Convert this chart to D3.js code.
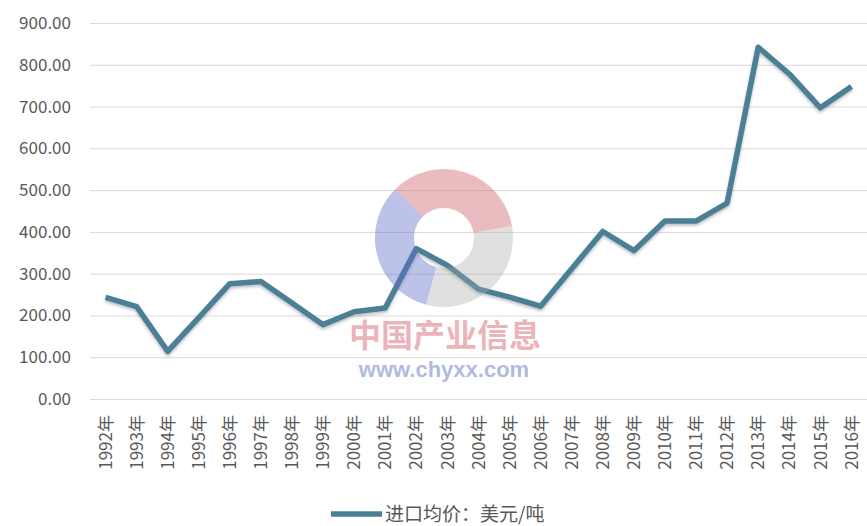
<!DOCTYPE html>
<html>
<head>
<meta charset="utf-8">
<script src="https://cdn.jsdelivr.net/npm/d3@7"></script>
<style>
  body { margin: 0; background: #fff; }
  text { font-family: "Microsoft YaHei", "Noto Sans CJK SC", sans-serif; }
</style>
</head>
<body>
<div id="chart"></div>
<script>
// data
const years = ["1992年","1993年","1994年","1995年","1996年","1997年","1998年","1999年","2000年",
  "2001年","2002年","2003年","2004年","2005年","2006年","2007年","2008年","2009年","2010年",
  "2011年","2012年","2013年","2014年","2015年","2016年"]
const prices = [243, 221, 114, 195, 276, 281, 230, 178, 209,
  218, 360, 320, 263, 244, 222, 312, 401, 355, 426,
  426, 469, 842, 778, 697, 748]
const yTicks = [0, 100, 200, 300, 400, 500, 600, 700, 800, 900]
const seriesName = "进口均价：美元/吨"

const width = 867
const height = 526
const margin = {top: 23, right: 0, bottom: 125, left: 90}

const svg = d3.select("#chart")
  .append("svg")
    .attr("width", width)
    .attr("height", height)

const x = d3.scaleBand()
  .domain(years)
  .range([margin.left, width - margin.right])

const y = d3.scaleLinear()
  .domain([0, 900])
  .range([height - margin.bottom - 2, margin.top])

// gridlines + y labels
const yAxis = svg.append("g")
  .attr("transform", `translate(${margin.left},0)`)
  .call(d3.axisLeft(y).tickValues(yTicks).tickFormat(d3.format(".2f"))
    .tickSize(-(width - margin.left - margin.right)).tickPadding(19))
yAxis.select(".domain").remove()
yAxis.selectAll(".tick line").attr("stroke", "#d9d9d9")
yAxis.selectAll(".tick text")
  .attr("fill", "#595959")
  .style("font-size", "17px")

// x labels, rotated
const xAxis = svg.append("g")
  .attr("transform", `translate(0,${y(0)})`)
  .call(d3.axisBottom(x).tickSize(0))
xAxis.select(".domain").remove()
xAxis.selectAll(".tick text")
  .attr("fill", "#595959")
  .style("font-size", "17px")
  .attr("text-anchor", "end")
  .attr("transform", "rotate(-90)")
  .attr("x", -16)
  .attr("y", 0)
  .attr("dy", "0.36em")

// soft shadow for the line
const defs = svg.append("defs")
const f = defs.append("filter").attr("id", "shadow")
  .attr("x", "-10%").attr("y", "-10%").attr("width", "120%").attr("height", "130%")
f.append("feDropShadow").attr("dx", 0).attr("dy", 2).attr("stdDeviation", 1.5)
  .attr("flood-color", "#000").attr("flood-opacity", 0.25)

const line = d3.line()
  .x((d, i) => x(years[i]) + x.bandwidth() / 2)
  .y(d => y(d))

svg.append("path")
  .datum(prices)
  .attr("fill", "none")
  .attr("stroke", "#4b7f96")
  .attr("stroke-width", 5.5)
  .attr("stroke-linejoin", "round")
  .attr("filter", "url(#shadow)")
  .attr("d", line)

// watermark
const wm = svg.append("g").attr("transform", "translate(444,238)")
const arc = d3.arc().innerRadius(30).outerRadius(69)
const wedges = [
  {start: -45, end: 80, color: "rgba(205,95,105,0.42)"},
  {start: 80, end: 195, color: "rgba(165,165,170,0.35)"},
  {start: 195, end: 315, color: "rgba(95,110,200,0.42)"}
]
wm.selectAll("path")
  .data(wedges)
  .join("path")
    .attr("d", d => arc({startAngle: d.start * Math.PI / 180, endAngle: d.end * Math.PI / 180}))
    .attr("fill", d => d.color)

svg.append("text")
  .attr("x", 445).attr("y", 347)
  .attr("text-anchor", "middle")
  .attr("fill", "rgba(215,105,115,0.5)")
  .style("font-size", "32px")
  .style("font-weight", "bold")
  .text("中国产业信息")

svg.append("text")
  .attr("x", 444).attr("y", 377)
  .attr("text-anchor", "middle")
  .attr("fill", "rgba(110,125,200,0.55)")
  .style("font-family", "Liberation Sans, Arial, sans-serif")
  .style("font-size", "22px")
  .style("font-weight", "bold")
  .text("www.chyxx.com")

// legend
const legend = svg.append("g").attr("transform", "translate(331,514)")
legend.append("line")
  .attr("x1", 0).attr("x2", 51)
  .attr("stroke", "#4b7f96")
  .attr("stroke-width", 5.5)
legend.append("text")
  .attr("x", 54)
  .attr("dy", "0.35em")
  .attr("fill", "#595959")
  .style("font-size", "19px")
  .text(seriesName)
</script>
</body>
</html>
